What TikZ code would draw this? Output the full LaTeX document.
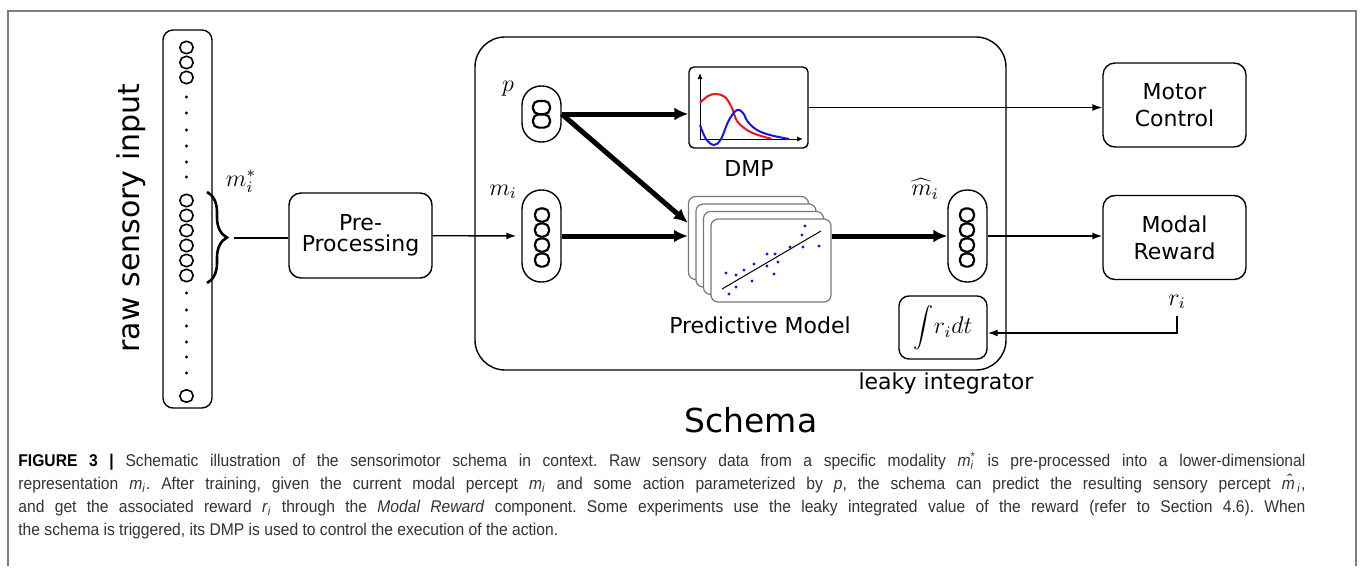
\documentclass[tikz,border=0pt]{standalone}
\usepackage{fontspec}
\setsansfont{DejaVu Sans}
\newfontfamily\capfont[FakeStretch=0.92]{Liberation Sans}
\usetikzlibrary{arrows.meta,
	calc,
	decorations.pathreplacing,
	positioning}

\definecolor{framegray}{RGB}{125,125,125}
\definecolor{stackgray}{RGB}{120,120,120}
\definecolor{dotblue}{RGB}{20,20,235}
\definecolor{curvered}{RGB}{240,20,20}
\definecolor{curveblue}{RGB}{20,20,240}

\newcommand{\capmi}{\textit{m}\textsubscript{\textit{i}}}
\newcommand{\capmstar}{\textit{m}\rlap{\textsubscript{\textit{i}}}\textsuperscript{*}}
\newcommand{\capmhat}{\textit{\^{m}}\textsubscript{\textit{i}}}
\newcommand{\capri}{\textit{r}\textsubscript{\textit{i}}}

\begin{document}
\begin{tikzpicture}[x=0.5pt, y=-0.5pt]
    \tikzstyle{box}=[draw, line width=0.7pt, rounded corners=6pt, minimum width=71.5pt, minimum height=42pt, align=center, font=\sffamily\fontsize{11}{13.5}\selectfont]
    \tikzstyle{pill}=[draw, line width=0.7pt, rounded corners=9.5pt, minimum width=19.5pt, inner sep=0pt]
    \tikzstyle{cell}=[draw, line width=1.1pt, rounded corners=2.8pt, minimum width=7pt, minimum height=6.6pt, inner sep=0pt]
    \tikzstyle{pmbox}=[draw=stackgray, fill=white, line width=0.6pt, rounded corners=3.5pt, minimum width=60pt, minimum height=41.5pt]
    \tikzstyle{lbl}=[font=\sffamily\fontsize{11}{13}\selectfont]
    \tikzstyle{mathlbl}=[font=\fontsize{12}{14}\selectfont]
    \tikzstyle{bigarrow}=[line width=2.5pt, -{Latex[length=7pt,width=6.5pt]}]
    \tikzstyle{smallarrow}=[line width=0.7pt, -{Latex[length=5pt,width=3.5pt]}]
    \useasboundingbox (0,0) rectangle (1360,573);
    \fill[white] (0,0) rectangle (1360,573);
    \draw[framegray, line width=0.8pt] (8,566) -- (8,11) -- (1356,11) -- (1356,566);

    \node[draw, line width=0.7pt, rounded corners=5pt, minimum width=24.5pt, minimum height=189pt] (raw) at (187.5,219) {};
    \foreach \y [count=\i] in {47.5,62.5,77.5,200.5,215.5,230.5,245.5,260.5,275.5,396}
      \node[cell, line width=0.8pt, minimum width=6.5pt, minimum height=6pt] (raw_o\i) at (186.5,\y) {};
    \foreach \y in {97,113,130,146,162,177,293,310,326,342,357,373}
      \fill (186.5,\y) circle (1.6);
    \node[font=\sffamily\fontsize{15}{18}\selectfont, rotate=90] (raw_lbl) at (131,218) {raw sensory input};
    \coordinate (br_top) at (207,192);
    \coordinate (br_bot) at (207,283);
    \coordinate (br_tip) at (234,238);
    \draw[line width=1.3pt, decorate, decoration={brace, amplitude=10pt}] (br_top) -- (br_bot);
    \node[mathlbl] (m_star) at (241,181) {$m_i^*$};
    \node[box, minimum height=42.5pt, font=\sffamily\fontsize{11}{10.5}\selectfont] (pre) at (360.5,235.5) {Pre-\\Processing};

    \node[draw, line width=0.7pt, rounded corners=15pt, minimum width=265.5pt, minimum height=166.5pt] (schema) at (740.5,203.5) {};
    \node[font=\sffamily\fontsize{16.5}{20}\selectfont] (schema_lbl) at (751,420) {Schema};

    \node[pill, minimum height=28pt] (p) at (541.5,114) {};
    \foreach \y [count=\i] in {107.5,121}
      \node[cell, minimum width=8.5pt] (p_o\i) at (541.5,\y) {};
    \node[mathlbl] (p_lbl) at (508,89) {$p$};
    \node[pill, minimum height=46pt] (m_i) at (541.5,236) {};
    \foreach \y [count=\i] in {215,230,245,260}
      \node[cell] (m_o\i) at (542,\y) {};
    \node[mathlbl] (m_lbl) at (503,192) {$m_i$};

    \node[draw, line width=0.7pt, rounded corners=2.5pt, minimum width=59.5pt, minimum height=40.5pt] (dmp) at (748.5,107.5) {};
    \coordinate (dmp_o) at (700,139);
    \coordinate (dmp_y) at (700,73);
    \coordinate (dmp_x) at (803,139);
    \draw[line width=0.5pt, -{Latex[length=3pt,width=2.5pt]}] (dmp_o) -- (dmp_y);
    \draw[line width=0.5pt, -{Latex[length=3pt,width=2.5pt]}] (dmp_o) -- (dmp_x);
    \draw[curvered, line width=1pt] plot[smooth, tension=0.6] coordinates {(700,103) (708,96) (716,94) (725,97) (732,108) (737,121) (747,130) (758,135) (772,139)};
    \draw[curveblue, line width=1pt] plot[smooth, tension=0.6] coordinates {(700,125) (706,139) (714,145) (721,139) (729,120) (737,110) (743,113) (748,122) (757,130) (770,135) (789,139)};
    \node[lbl] (dmp_lbl) at (749,168) {DMP};

    \foreach \k/\x/\y in {1/748.5/238, 2/756/245.5, 3/763.5/253, 4/771/260.5}
      \node[pmbox] (pm_\k) at (\x,\y) {};
    \draw[line width=0.5pt] (722,289) -- (821,231);
    \foreach \x/\y in {726/273, 736/275, 744/270, 754/264, 752/281, 736/287, 729/294, 767/254, 767/266, 775/254, 778/262, 774/274, 790/247, 802/235, 805/226, 803/247, 819/246}
      \fill[dotblue] (\x,\y) circle (1.7);
    \node[lbl] (pm_lbl) at (760,325) {Predictive Model};

    \node[pill, minimum height=46pt] (m_hat) at (967.5,236) {};
    \foreach \y [count=\i] in {215,230,245,260}
      \node[cell] (mh_o\i) at (967,\y) {};
    \node[mathlbl] (mh_lbl) at (925,189) {$\widehat{m}_i$};

    \node[draw, line width=0.7pt, rounded corners=5pt, minimum width=44pt, minimum height=31.5pt, inner sep=1pt] (integ) at (943,327.5) {\fontsize{11.5}{13}\selectfont$\displaystyle\int\! r_i dt$};
    \node[lbl] (integ_lbl) at (946,383) {leaky integrator};

    \node[box] (motor) at (1174.5,105) {Motor\\Control};
    \node[box] (modal) at (1174.5,237.5) {Modal\\Reward};
    \node[mathlbl] (r_lbl) at (1177,302) {$r_i$};
    \coordinate (r_turn) at (1177,333);

    \draw[line width=0.7pt] (br_tip) -- (br_tip -| pre.west);
    \draw[smallarrow, shorten >=2.5pt] (pre) -- (m_i);
    \draw[bigarrow] (p.east) -- (p.east -| dmp.west);
    \draw[bigarrow] (p.east) -- (pm_1.166);
    \draw[bigarrow] (m_i.east) -- (m_i.east -| pm_1.west);
    \draw[bigarrow] (pm_4.east |- m_hat.west) -- (m_hat.west);
    \draw[smallarrow] (dmp.east) -- (dmp.east -| motor.west);
    \draw[smallarrow] (m_hat.east) -- (m_hat.east -| modal.west);
    \draw[smallarrow] (r_lbl.south) -- (r_turn) -- (r_turn -| integ.east);

    \node[anchor=north west, inner sep=0pt, text width=643.5pt, align=justify, font=\capfont\fontsize{8.5}{11.5}\selectfont\frenchspacing, text=black!80] (caption) at (18,452) {{\color{black}\bfseries FIGURE 3 |} Schematic illustration of the sensorimotor schema in context. Raw sensory data from a specific modality \capmstar{} is pre-processed into a lower-dimensional\linebreak
    representation \capmi. After training, given the current modal percept \capmi{} and some action parameterized by \textit{p}, the schema can predict the resulting sensory percept \capmhat,\linebreak
    and get the associated reward \capri{} through the \textit{Modal Reward} component. Some experiments use the leaky integrated value of the reward (refer to Section 4.6). When\linebreak
    the schema is triggered, its DMP is used to control the execution of the action.};
\end{tikzpicture}
\end{document}
